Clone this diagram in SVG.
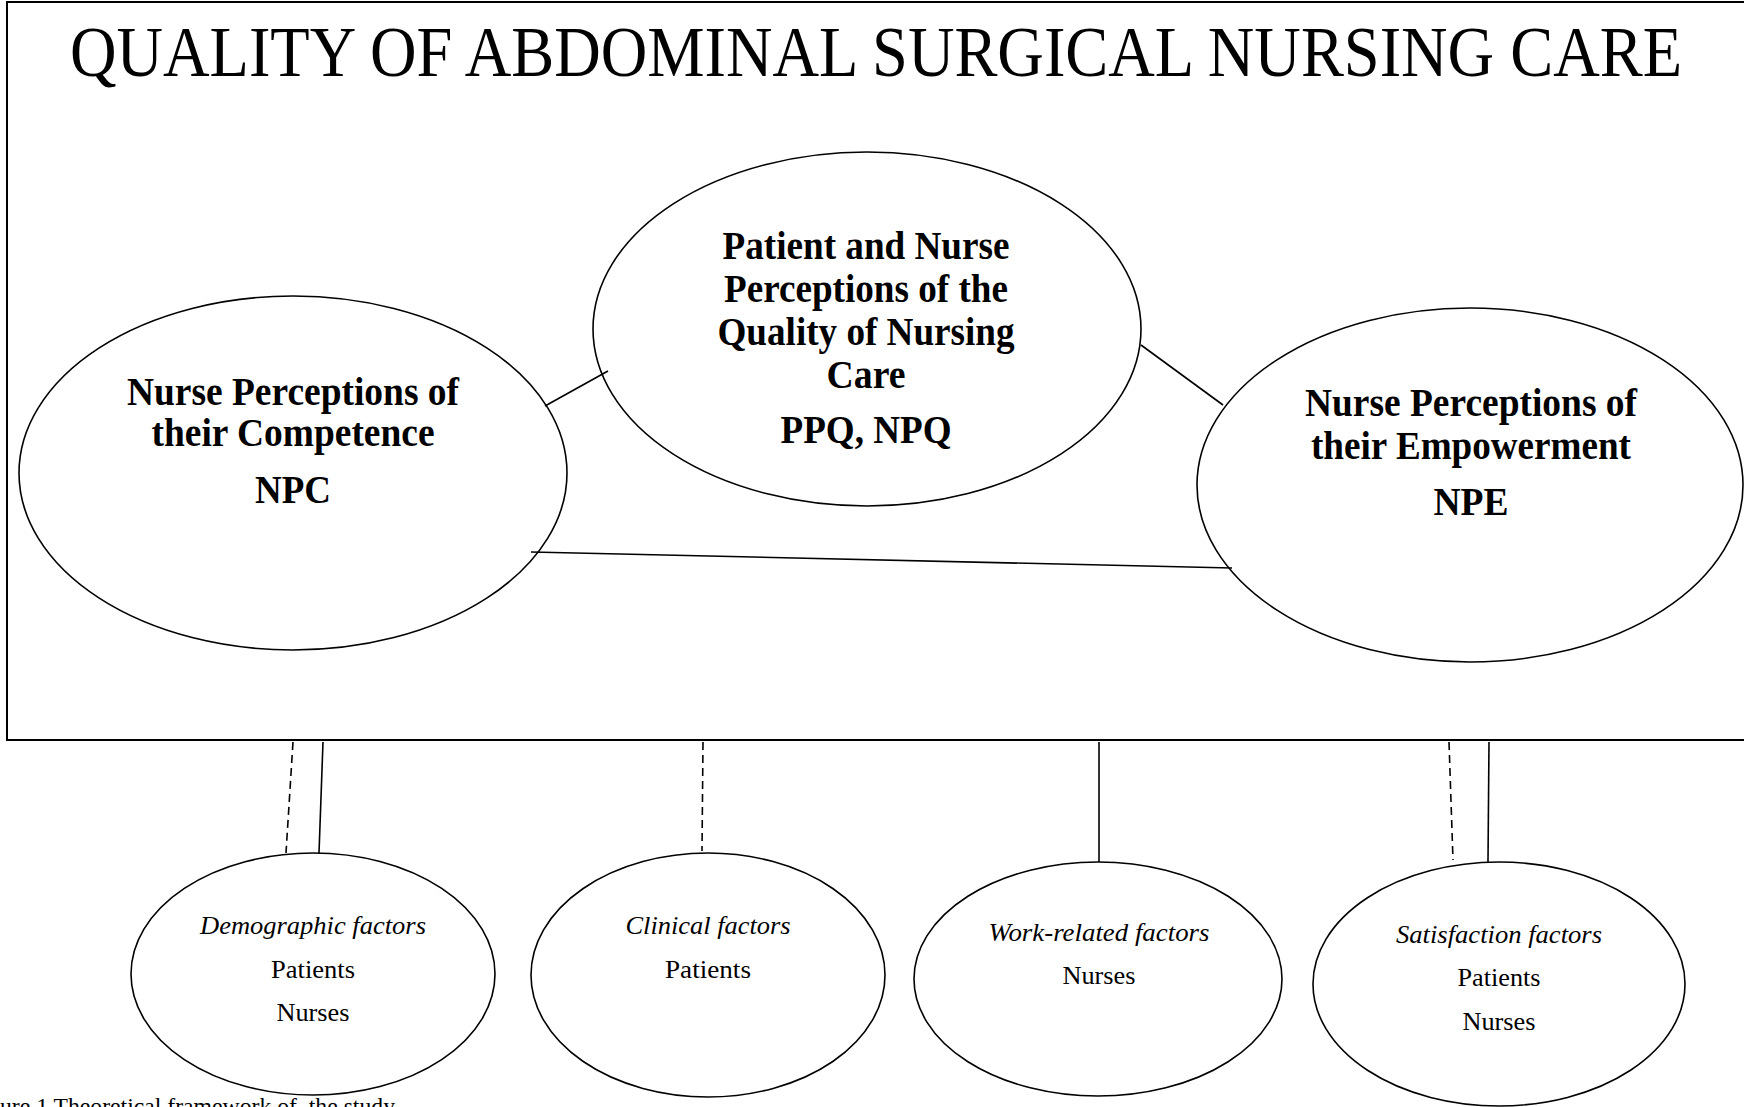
<svg xmlns="http://www.w3.org/2000/svg" width="1744" height="1107" viewBox="0 0 1744 1107">
<style>
.shape{fill:#fff;stroke:#000;stroke-width:1.6}
.frame{fill:#fff;stroke:#000;stroke-width:2}
.ln{stroke:#000;stroke-width:1.6;fill:none}
.dash{stroke:#000;stroke-width:1.6;fill:none;stroke-dasharray:8 5}
text{font-family:'Liberation Serif','Times New Roman',Times,serif;fill:#000}
.title{font-size:56px;text-anchor:middle}
.big{font-size:39px;font-weight:bold;text-anchor:middle}
.it{font-size:26px;font-style:italic;text-anchor:middle}
.sm{font-size:26px;text-anchor:middle}
.cap{font-size:24px;white-space:pre}
</style>
<rect width="1744" height="1107" fill="#fff"/>
<g id="frame">
<rect class="frame" x="7" y="2" width="1745" height="738"/>
<text class="title" transform="translate(876 76) scale(1 1.27)" x="0" y="0" textLength="1612" lengthAdjust="spacingAndGlyphs">QUALITY OF ABDOMINAL SURGICAL NURSING CARE</text>
</g>
<g id="npc">
<ellipse class="shape" cx="293" cy="473" rx="274" ry="177"/>
<text class="big" x="293" y="405" textLength="332" lengthAdjust="spacingAndGlyphs">Nurse Perceptions of</text>
<text class="big" x="293" y="446" textLength="283" lengthAdjust="spacingAndGlyphs">their Competence</text>
<text class="big" x="293" y="503" textLength="76" lengthAdjust="spacingAndGlyphs">NPC</text>
</g>
<g id="ppq">
<ellipse class="shape" cx="867" cy="329" rx="274" ry="177"/>
<text class="big" x="866" y="259" textLength="287" lengthAdjust="spacingAndGlyphs">Patient and Nurse</text>
<text class="big" x="866" y="302" textLength="284" lengthAdjust="spacingAndGlyphs">Perceptions of the</text>
<text class="big" x="866" y="345" textLength="297" lengthAdjust="spacingAndGlyphs">Quality of Nursing</text>
<text class="big" x="866" y="388" textLength="79" lengthAdjust="spacingAndGlyphs">Care</text>
<text class="big" x="866" y="443" textLength="171" lengthAdjust="spacingAndGlyphs">PPQ, NPQ</text>
</g>
<g id="npe">
<ellipse class="shape" cx="1470" cy="485" rx="273" ry="177"/>
<text class="big" x="1471" y="416" textLength="332" lengthAdjust="spacingAndGlyphs">Nurse Perceptions of</text>
<text class="big" x="1471" y="459" textLength="320" lengthAdjust="spacingAndGlyphs">their Empowerment</text>
<text class="big" x="1471" y="515" textLength="75" lengthAdjust="spacingAndGlyphs">NPE</text>
</g>
<g id="demographic">
<ellipse class="shape" cx="313" cy="974" rx="182" ry="121"/>
<text class="it" x="313" y="934" textLength="226" lengthAdjust="spacingAndGlyphs">Demographic factors</text>
<text class="sm" x="313" y="978" textLength="84" lengthAdjust="spacingAndGlyphs">Patients</text>
<text class="sm" x="313" y="1021" textLength="73" lengthAdjust="spacingAndGlyphs">Nurses</text>
</g>
<g id="clinical">
<ellipse class="shape" cx="708" cy="975" rx="177" ry="122"/>
<text class="it" x="708" y="934" textLength="165" lengthAdjust="spacingAndGlyphs">Clinical factors</text>
<text class="sm" x="708" y="978" textLength="86" lengthAdjust="spacingAndGlyphs">Patients</text>
</g>
<g id="work">
<ellipse class="shape" cx="1098" cy="979" rx="184" ry="117"/>
<text class="it" x="1099" y="941" textLength="221" lengthAdjust="spacingAndGlyphs">Work-related factors</text>
<text class="sm" x="1099" y="984" textLength="73" lengthAdjust="spacingAndGlyphs">Nurses</text>
</g>
<g id="satisfaction">
<ellipse class="shape" cx="1499" cy="984" rx="186" ry="122"/>
<text class="it" x="1499" y="943" textLength="206" lengthAdjust="spacingAndGlyphs">Satisfaction factors</text>
<text class="sm" x="1499" y="986" textLength="83" lengthAdjust="spacingAndGlyphs">Patients</text>
<text class="sm" x="1499" y="1030" textLength="73" lengthAdjust="spacingAndGlyphs">Nurses</text>
</g>
<g id="connectors">
<line class="ln" x1="545" y1="406" x2="608" y2="371"/>
<line class="ln" x1="1141" y1="345" x2="1223" y2="405"/>
<line class="ln" x1="531" y1="552" x2="1232" y2="568"/>
<line class="dash" x1="293" y1="742" x2="286" y2="853"/>
<line class="ln" x1="323" y1="742" x2="319" y2="853"/>
<line class="dash" x1="703" y1="742" x2="702" y2="851"/>
<line class="ln" x1="1099" y1="742" x2="1099" y2="862"/>
<line class="dash" x1="1449" y1="742" x2="1453" y2="860"/>
<line class="ln" x1="1489" y1="742" x2="1488" y2="862"/>
</g>
<g id="caption">
<text class="cap" x="0" y="1114" textLength="395" lengthAdjust="spacingAndGlyphs">ure 1 Theoretical framework of  the study</text>
</g>
</svg>
